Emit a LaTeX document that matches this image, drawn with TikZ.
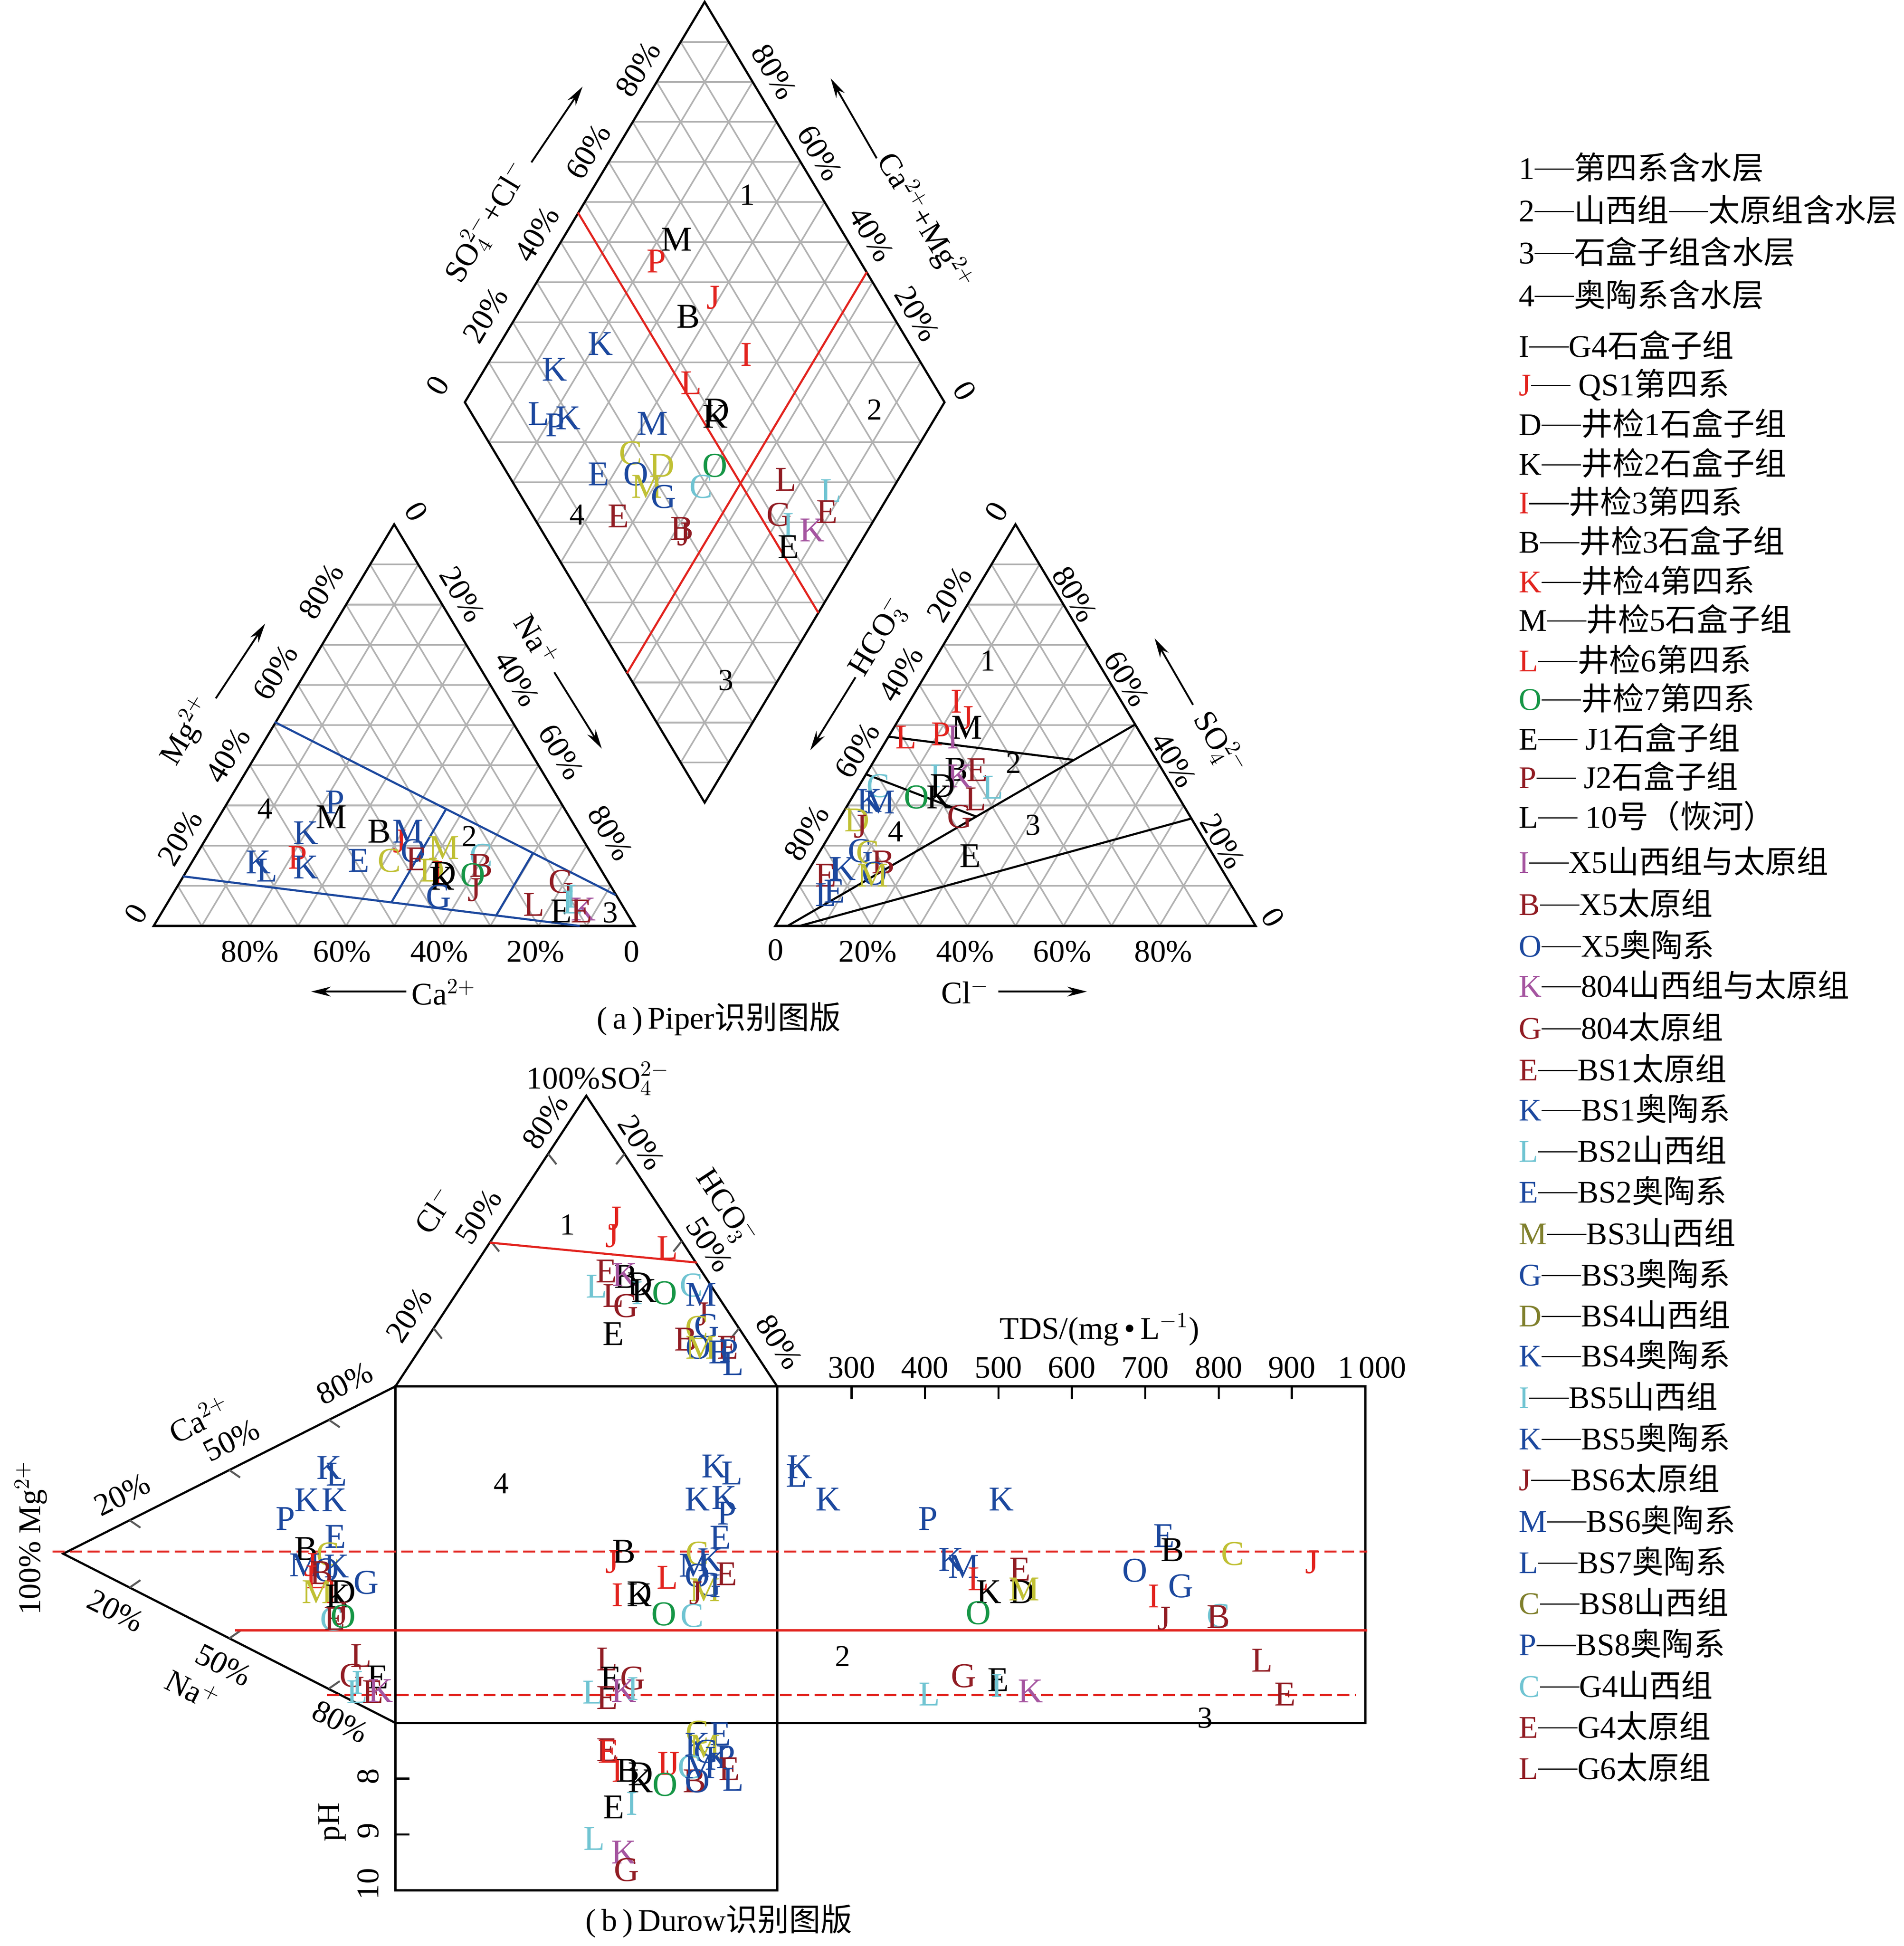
\documentclass[tikz,border=0pt]{standalone}
\usepackage{fontspec}
\setmainfont{Liberation Serif}
\newfontfamily\cjk{Noto Sans CJK SC}
\usepackage{tikz}
\usetikzlibrary{calc,arrows.meta}

\definecolor{pred}{RGB}{226,35,30}
\definecolor{pdred}{RGB}{145,28,35}
\definecolor{pblue}{RGB}{28,72,158}
\definecolor{pcyan}{RGB}{112,196,210}
\definecolor{pgreen}{RGB}{22,150,70}
\definecolor{polive}{RGB}{192,192,52}
\definecolor{poldk}{RGB}{128,128,45}
\definecolor{ppurple}{RGB}{165,85,160}
\definecolor{gridgray}{RGB}{178,178,178}
\definecolor{tickgray}{RGB}{90,90,90}

\newcommand\zh[1]{{\cjk #1}}
\newcommand\ldash{\rule[0.3em]{1.25em}{0.55pt}}

% 10% grid of a triangle
\newcommand\trigrid[3]{%
  \foreach \gi in {1,...,9}{%
    \draw[gridln] ($(#1)!\gi/10!(#2)$) -- ($(#1)!\gi/10!(#3)$);
    \draw[gridln] ($(#2)!\gi/10!(#1)$) -- ($(#2)!\gi/10!(#3)$);
    \draw[gridln] ($(#3)!\gi/10!(#1)$) -- ($(#3)!\gi/10!(#2)$);
  }}
% sample letters
\newcommand\samples[2]{%
  \foreach \px/\py/\pl/\pc [count=\n] in {#2}
    \node[dat,text=\pc] (#1\n) at (\px,\py) {\pl};}

\begin{document}
\begin{tikzpicture}[x=0.02cm,y=-0.02cm,
  gridln/.style={draw=gridgray,line width=0.75pt},
  outline/.style={draw=black,line width=1pt},
  zoneline/.style={line width=0.95pt},
  dashline/.style={draw=pred,line width=0.95pt,dash pattern=on 5.5pt off 2.5pt},
  dat/.style={font=\fontsize{16}{16}\selectfont,inner sep=0pt},
  pct/.style={font=\fontsize{14.5}{15}\selectfont,inner sep=0pt},
  reg/.style={font=\fontsize{14}{14}\selectfont,inner sep=0pt},
  leg/.style={font=\fontsize{14.5}{15}\selectfont,anchor=west,inner sep=0pt},
  axarr/.style={line width=0.85pt,-{Stealth[length=9pt,width=4.5pt]}},
  tk/.style={draw=tickgray,line width=0.9pt}]

\useasboundingbox (0,0) rectangle (1536,1570);

% ---------- Piper ----------
\coordinate (LA) at (124,747);
\coordinate (LB) at (512,747);
\coordinate (LC) at (318,423);
\coordinate (RA) at (625.5,747);
\coordinate (RB) at (1013,747);
\coordinate (RC) at (819.25,423);
\coordinate (DL) at (375,324.5);
\coordinate (DR) at (762,324.5);
\coordinate (DT) at (568.5,1.5);
\coordinate (DB) at (568.5,647.5);

\trigrid{LA}{LB}{LC}
\trigrid{RA}{RB}{RC}
\trigrid{DL}{DR}{DT}
\trigrid{DL}{DR}{DB}

\draw[outline] (LA) -- (LB) -- (LC) -- cycle;
\draw[outline] (RA) -- (RB) -- (RC) -- cycle;
\draw[outline] (DL) -- (DT) -- (DR) -- (DB) -- cycle;

% zone boundaries
\foreach \n/\xa/\ya/\xb/\yb/\cc in {
  d1/466.2/171.4/660.2/494.4/pred, d2/699.4/219.4/505.8/543.2/pred,
  l1/221.6/582.5/496.5/722/pblue, l2/147.5/707/467.7/747/pblue,
  l3/316/727.6/359.9/652.7/pblue, l4/400.5/738.2/429.8/688.5/pblue,
  r1/716.8/594.3/865.7/613/black, r2/699.4/624.9/787.6/658.8/black,
  r3/635.4/747/916/584.4/black, r4/645.2/747/961/660.4/black}
{\coordinate (\n0) at (\xa,\ya); \coordinate (\n1) at (\xb,\yb);
 \draw[zoneline,draw=\cc] (\n0) -- (\n1);}

% axis labels
\foreach \px/\py/\r/\pl [count=\n] in {
  353/311/59/0, 391.6/254.3/59/20\%, 433.2/188.8/59/40\%, 474.6/122.2/59/60\%, 514.6/55.7/59/80\%,
  624.4/57.9/-59/80\%, 661.3/123.3/-59/60\%, 702.9/188.8/-59/40\%, 739.8/253.2/-59/20\%, 778.4/315.4/-59/0,
  393/179/59/{SO$_4^{2-}$+Cl$^-$}, 745.6/179/-59/{Ca$^{2+}$+Mg$^{2+}$},
  201.6/767.8/0/80\%, 276/767.8/0/60\%, 354.4/767.8/0/40\%, 432/767.8/0/20\%, 509.7/767.8/0/0,
  358/800.5/0/Ca$^{2+}$,
  109.7/737/59/0, 145.3/676/59/20\%, 183.7/609.3/59/40\%, 222.1/542.4/59/60\%, 259.2/476.9/59/80\%,
  150.8/589.6/59/Mg$^{2+}$,
  336/412.7/-59/0, 373/479.5/-59/20\%, 417/547.6/-59/40\%, 452.6/606.6/-59/60\%, 492.4/672.1/-59/80\%,
  433.4/516.2/-59/Na$^{+}$,
  625.6/766.4/0/0, 700/767.8/0/20\%, 778.6/767.8/0/40\%, 857/767.8/0/60\%, 938.5/767.8/0/80\%,
  778.6/800/0/Cl$^-$,
  650.8/672/59/80\%, 691.6/605.3/59/60\%, 726.6/543.7/59/40\%, 766/479.5/59/20\%, 803.8/412.7/59/0,
  708.5/513.6/59/HCO$_3^-$,
  867/479.5/-59/80\%, 909/547.6/-59/60\%, 947/613/-59/40\%, 986.3/678.7/-59/20\%, 1027/740/-59/0,
  983.5/600/-59/SO$_4^{2-}$}
  \node[pct,rotate=\r] (pa\n) at (\px,\py) {\pl};

% axis arrows
\foreach \n/\xa/\ya/\xb/\yb in {
  1/428.7/131/470/69.9, 2/707.3/127.7/670.2/63.3,
  3/327.8/800/251/800, 4/174.1/563.4/213.9/503.1, 5/447.2/542.4/485.5/604,
  6/805.3/800/876.9/800, 7/690.2/546.4/653.7/605.3, 8/962.5/568.6/931.5/514.9}
{\coordinate (as\n) at (\xa,\ya); \coordinate (ae\n) at (\xb,\yb);
 \draw[axarr] (as\n) -- (ae\n);}

% zone numbers
\foreach \px/\py/\pl [count=\n] in {
  602.9/157.2/1, 705.7/330.5/2, 585.7/548.8/3, 465.7/415.3/4,
  213.9/652.4/4, 378.6/674.7/2, 492.4/736.4/3,
  796.8/533.2/1, 817.8/615.7/2, 833.3/665.5/3, 722.4/670.8/4,
  457.8/988.1/1, 404.4/1197/4, 679.9/1336.2/2, 972.2/1386/3}
  \node[reg] (zn\n) at (\px,\py) {\pl};

\samples{pd}{545.7/193.2/M/black, 529.4/210.7/P/pred, 575.4/240.1/J/pred, 555.2/255.4/B/black,
  484.4/277.2/K/pblue, 602/286/I/pred, 447.4/298/K/pblue, 557.6/308.9/L/pred, 578.3/331/D/black,
  577/336/K/black, 434.6/333.9/L/pblue, 448/342.9/P/pblue, 458.3/337.3/K/pblue, 526.5/341.8/M/pblue,
  508.7/365.5/C/polive, 533.9/375.7/D/polive, 482.9/382.5/E/pblue, 513.1/382.5/O/pblue,
  522/392.7/M/polive, 535.4/400.6/G/pblue, 576.8/375.7/O/pgreen, 565.6/392.7/C/pcyan,
  498.9/416.4/E/pdred, 550.2/426.6/B/pdred, 551.7/431.1/J/pdred, 634/387/L/pdred,
  670.2/396.1/L/pcyan, 628.7/415.3/G/pdred, 636.1/423.2/I/pcyan, 655.4/427.7/K/ppurple,
  667.2/413/E/pdred, 636.1/441.3/E/black}
\samples{pl}{270.2/647.2/P/pblue, 267.4/659/M/black, 246.9/672.1/K/pblue, 305.9/670.8/B/black,
  322.3/678.6/J/pred, 329.2/670.8/M/pblue, 333.3/686.5/O/pblue, 336/693.2/E/pdred, 358/683.9/M/polive,
  208.4/695.6/K/pblue, 215.3/702.2/L/pblue, 240/691.7/P/pred, 246.9/699.6/K/pblue, 289.4/694.3/E/pblue,
  314.1/694.3/C/polive, 348.4/702.2/D/polive, 353/704/I/pred, 358/704.8/D/black, 356.6/708.7/K/black,
  388.2/690.4/C/pcyan, 388.2/698.3/B/pdred, 381.3/706.1/O/pgreen, 382.7/717.9/J/pdred,
  353.9/723.2/G/pblue, 452.7/711.4/G/pdred, 430.7/729.7/L/pdred, 452.7/735/E/black,
  460.9/723.2/I/pcyan, 462/728/L/pcyan, 470.5/733.6/K/ppurple, 469.1/735/E/pdred}
\samples{pr}{771.5/566/I/pred, 780/579.1/J/pred, 780/586.9/M/black, 730.8/594.8/L/pred,
  758.9/592.2/P/pred, 768.7/594.8/I/ppurple, 771.5/621/B/black, 788.4/621/E/pdred,
  754.7/626.2/I/pcyan, 774.3/626.2/K/ppurple, 760.3/634.1/D/black, 801/635.4/L/pcyan,
  708.4/634.1/C/pcyan, 701.4/645.9/K/pblue, 709.8/647.2/M/pblue, 739.3/643.2/O/pgreen,
  757.5/643.2/K/black, 787/644.6/L/pdred, 774.3/659/G/pdred, 691.5/661.6/D/polive,
  694.3/666.8/J/pdred, 782.8/690.4/E/black, 694.3/686.5/G/pblue, 700/687.8/C/polive,
  712.6/695.6/B/pdred, 680.3/700.9/K/pblue, 673.3/700.9/I/pblue, 705.6/704.8/O/pblue,
  704.2/706.1/M/polive, 666.3/706.1/E/pdred, 666.3/721.8/L/pblue, 673.3/719.2/E/pblue}

\node (capa) at (580,822) {\fontsize{14.5}{15}\selectfont(\,a\,)\,Piper\zh{识别图版}};

% ---------- Durov ----------
\coordinate (TA) at (319,1118.5);
\coordinate (TB) at (627,1118.5);
\coordinate (TC) at (473,884);
\coordinate (SA) at (51,1253.5);
\coordinate (SB) at (319,1390);
\coordinate (SC) at (627,1390);
\coordinate (PB) at (627,1525);
\coordinate (XB) at (1101.5,1390);

\draw[outline] (TA) -- (TC) -- (TB);
\draw[outline] (TA) -- (SA) -- (SB);
\draw[outline] (TA) rectangle (SC);
\draw[outline] (SB) rectangle (PB);
\draw[outline] (TB) rectangle (XB);

% ticks
\foreach \px/\py/\dx/\dy in {442.2/930.9/6.7/8.4, 396/1001.3/6.7/8.4, 349.8/1071.6/6.7/8.4,
  503.8/930.9/-6.7/8.4, 550/1001.3/-6.7/8.4, 596.2/1071.6/-6.7/8.4,
  104.6/1226.5/8.7/6, 185/1186/8.7/6, 265.4/1145.5/8.7/6,
  104.6/1280.8/8.7/-6, 185/1321.8/8.7/-6, 265.4/1362.3/8.7/-6}
  \draw[tk] (\px,\py) -- ++(\dx,\dy);
\foreach \py in {1435,1480,1525} \draw[outline] (319,\py) -- ++(11.4,0);
\foreach \px in {687,746.2,805.5,864.7,924,983.3,1042.2} \draw[outline] (\px,1118.5) -- ++(0,10.2);

% zone boundaries
\coordinate (t10) at (395,1002.5);
\coordinate (t11) at (562.2,1018.6);
\coordinate (s00) at (42.5,1251.7);
\coordinate (s01) at (1103,1251.7);
\coordinate (s10) at (189.7,1315.3);
\coordinate (s11) at (1103,1315.3);
\coordinate (s20) at (263.7,1367.5);
\coordinate (s21) at (1094,1367.5);
\draw[zoneline,draw=pred] (t10) -- (t11);
\draw[dashline] (s00) -- (s01);
\draw[zoneline,draw=pred] (s10) -- (s11);
\draw[dashline] (s20) -- (s21);

% axis labels
\foreach \px/\py/\r/\pl [count=\n] in {
  482.5/870.3/0/100\%SO$_4^{2-}$,
  439.8/904.8/56.8/80\%, 386/981.6/56.8/50\%, 329.9/1061/56.8/20\%, 350.1/976/56.8/Cl$^-$,
  517.3/921.7/-56.8/20\%, 572.3/1004/-56.8/50\%, 628.5/1082.6/-56.8/80\%, 585.8/974/-56.8/HCO$_3^-$,
  25/1240.7/90/100\% Mg$^{2+}$,
  98.5/1205.8/26.8/20\%, 186.6/1162/26.8/50\%, 277.9/1116/26.8/80\%, 160.7/1144.6/26.8/Ca$^{2+}$,
  93.3/1299.6/-26.8/20\%, 180.4/1343.3/-26.8/50\%, 274.7/1389/-26.8/80\%, 155.5/1363/-26.8/Na$^{+}$,
  297/1433/90/8, 297/1477/90/9, 297/1520/90/10, 268/1470/90/pH,
  687/1103.3/0/300, 746.2/1103.3/0/400, 805.5/1103.3/0/500, 864.7/1103.3/0/600,
  924/1103.3/0/700, 983.3/1103.3/0/800, 1042.2/1103.3/0/900, 1107/1103.3/0/1\,000}
  \node[pct,rotate=\r] (da\n) at (\px,\py) {\pl};
\node[pct] (tds) at (887,1072.7) {TDS/(mg\,\textbullet\,L$^{-1}$)};

\samples{dt}{496/983/J/pred, 494/997/J/pred, 538.6/1006.8/L/pred, 489.3/1025.6/E/pdred,
  505/1030/B/black, 503.9/1028.3/K/ppurple, 516.2/1035.9/D/black, 481.4/1037.7/L/pcyan,
  494.9/1045.2/L/pdred, 505/1053.6/G/pdred, 514/1043.3/I/pcyan, 519.6/1041.4/K/black,
  536.4/1043.3/O/pgreen, 557.7/1036.8/C/pcyan, 565.6/1044.3/M/pblue, 566.7/1060.2/J/pdred,
  570.1/1069.5/G/pblue, 562.3/1071/C/polive, 553.3/1080.7/B/pdred, 563.2/1087/O/pblue,
  565.6/1087.2/M/polive, 587/1087/E/pdred, 580.2/1091/E/pblue, 587.9/1090/P/pblue,
  591.4/1100.4/L/pblue, 494.9/1076/E/black}
\samples{dl}{265.5/1184/K/pblue, 271.7/1189.4/L/pblue, 247.8/1210.2/K/pblue, 269.6/1210.2/K/pblue,
  230.2/1225.4/P/pblue, 270.7/1239.6/E/pblue, 246.8/1249.4/B/black, 264.4/1253.8/C/polive,
  245.8/1262.5/M/pblue, 251/1262.5/J/pred, 271.7/1263.6/K/pblue, 263.4/1266.9/O/pblue,
  259.3/1269.1/B/pdred, 255.1/1272.4/L/pred, 295.5/1276.7/G/pblue, 256.1/1284.4/M/polive,
  267.5/1284.4/I/pred, 276.9/1284.4/D/black, 272.7/1287.6/K/black, 267.5/1306.2/C/pcyan,
  270/1306/E/pdred, 275.8/1301.8/J/pdred, 276.9/1304/O/pgreen, 291.4/1335.7/L/pdred,
  284.1/1352/G/pdred, 304.9/1353.1/E/black, 288.3/1357.5/I/pcyan, 288.3/1365.1/L/pcyan,
  300.7/1365.1/E/pdred, 307/1364/K/ppurple}
\samples{ds}{576/1182.9/K/pblue, 590.5/1188.5/L/pblue, 562.5/1209.6/K/pblue, 584.3/1208.2/K/pblue,
  586.3/1220.8/P/pblue, 581.2/1240.4/E/pblue, 503.4/1251.7/B/black, 494/1260.1/J/pred,
  562.5/1253.1/C/polive, 560.4/1262.9/M/pblue, 572.9/1258.7/K/pblue, 586.3/1270/E/pdred,
  562.5/1271.3/O/pblue, 571.8/1278.3/G/pblue, 568.7/1282.6/M/polive, 561.5/1285.4/J/pdred,
  577/1279.7/I/pblue, 538.6/1272.7/L/pred, 498.2/1286.8/I/pred, 515.8/1285.4/D/black,
  515.8/1286.8/K/black, 535.5/1302.2/O/pgreen, 558.3/1303.6/C/pcyan, 489.9/1338.7/L/pdred,
  493/1354.1/E/black, 510.6/1354.1/G/pdred, 478.5/1365.4/L/pcyan, 503.4/1364/K/ppurple,
  510.6/1362.6/I/pcyan, 489.9/1369.6/E/pdred}
\samples{dp}{562.5/1397.6/C/polive, 581.2/1399/E/pblue, 562.5/1407.5/K/pblue, 568.7/1408.9/M/polive,
  569.7/1413.1/G/pblue, 489.9/1411.7/E/pdred, 491/1413/E/pred, 498.2/1428.5/I/pred,
  506.5/1428.5/B/black, 516.9/1431.3/D/black, 516.9/1437/K/black, 535/1422.9/I/pred,
  543/1422.9/J/pred, 536.6/1439.8/O/pgreen, 560.4/1437/B/pdred, 562.5/1437/O/pblue,
  556.3/1425.7/C/pcyan, 564.6/1425.7/M/pblue, 579.1/1418.7/K/pblue, 585.3/1417.3/P/pblue,
  588.4/1427.1/E/pdred, 591.5/1435.6/L/pblue, 495.1/1458/E/black, 509.6/1455.2/I/pcyan,
  479.5/1483.3/L/pcyan, 503.4/1494.5/K/ppurple, 505.5/1508.5/G/pdred}
\samples{dx}{645.1/1183.5/K/pblue, 642.8/1190.3/L/pblue, 668/1209.6/K/pblue, 748.8/1225.4/P/pblue,
  807.8/1209.6/K/pblue, 939.1/1239/E/pblue, 945.8/1250.3/B/black, 994.6/1253.6/C/polive,
  1058.6/1260.4/J/pred, 767.4/1258.2/K/pblue, 777.5/1263.8/M/pblue, 789.2/1274/L/pred,
  822.9/1266.1/E/pdred, 797.7/1284.2/K/black, 824.6/1284.2/D/black, 826.3/1282/M/polive,
  789.2/1301.2/O/pgreen, 915.5/1267.2/O/pblue, 952.5/1279.7/G/pblue, 930.7/1287.6/I/pred,
  939.1/1305.7/J/pdred, 982.9/1303.4/C/pcyan, 982.9/1304.5/B/pdred, 1018.2/1339.6/L/pdred,
  1036.7/1366.8/E/pdred, 777.5/1352.1/G/pdred, 805.4/1355.4/E/black, 804.4/1360/I/pcyan,
  831.3/1364.5/K/ppurple, 749.9/1366.8/L/pcyan}

\node (capb) at (580,1550) {\fontsize{14.5}{15}\selectfont(\,b\,)\,Durow\zh{识别图版}};

% ---------- legend ----------
\foreach \py/\pl/\pc/\ps [count=\n] in {
  135/1/black/\zh{第四系含水层},
  169.2/2/black/{\zh{山西组}\ldash\zh{太原组含水层}},
  203.1/3/black/\zh{石盒子组含水层},
  237.5/4/black/\zh{奥陶系含水层},
  278.4/I/black/{G4\zh{石盒子组}},
  310.4/J/pred/{ QS1\zh{第四系}},
  341.6/D/black/{\zh{井检}1\zh{石盒子组}},
  373.6/K/black/{\zh{井检}2\zh{石盒子组}},
  404.8/I/pred/{\zh{井检}3\zh{第四系}},
  436.4/B/black/{\zh{井检}3\zh{石盒子组}},
  468.4/K/pred/{\zh{井检}4\zh{第四系}},
  499.6/M/black/{\zh{井检}5\zh{石盒子组}},
  532/L/pred/{\zh{井检}6\zh{第四系}},
  563.2/O/pgreen/{\zh{井检}7\zh{第四系}},
  595.1/E/black/{ J1\zh{石盒子组}},
  626.3/P/pdred/{ J2\zh{石盒子组}},
  658.3/L/black/{ 10\zh{号（恢河）}},
  694.8/I/ppurple/{X5\zh{山西组与太原组}},
  728.8/B/pdred/{X5\zh{太原组}},
  762.2/O/pblue/{X5\zh{奥陶系}},
  794.6/K/ppurple/{804\zh{山西组与太原组}},
  828.5/G/pdred/{804\zh{太原组}},
  862/E/pdred/{BS1\zh{太原组}},
  894.4/K/pblue/{BS1\zh{奥陶系}},
  927.8/L/pcyan/{BS2\zh{山西组}},
  960.8/E/pblue/{BS2\zh{奥陶系}},
  994.2/M/poldk/{BS3\zh{山西组}},
  1027.6/G/pblue/{BS3\zh{奥陶系}},
  1060.5/D/poldk/{BS4\zh{山西组}},
  1093/K/pblue/{BS4\zh{奥陶系}},
  1126.4/I/pcyan/{BS5\zh{山西组}},
  1159.8/K/pblue/{BS5\zh{奥陶系}},
  1192.8/J/pdred/{BS6\zh{太原组}},
  1226.2/M/pblue/{BS6\zh{奥陶系}},
  1259.6/L/pblue/{BS7\zh{奥陶系}},
  1292.5/C/poldk/{BS8\zh{山西组}},
  1326/P/pblue/{BS8\zh{奥陶系}},
  1359.4/C/pcyan/{G4\zh{山西组}},
  1392.4/E/pdred/{G4\zh{太原组}},
  1425.8/L/pdred/{G6\zh{太原组}}}
  \node[leg] (lg\n) at (1225,\py) {\textcolor{\pc}{\pl}\ldash\ps};

\end{tikzpicture}
\end{document}
